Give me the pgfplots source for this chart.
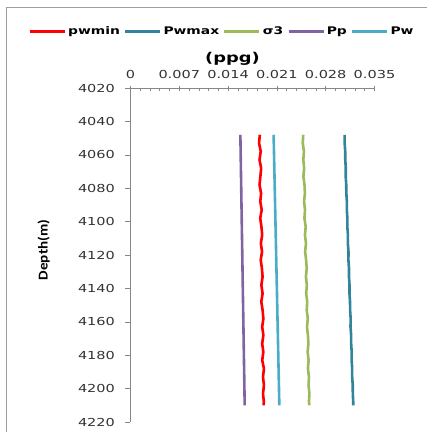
\documentclass[border=0pt]{standalone}
\usepackage{fontspec}
\usepackage{pgfplots}
\pgfplotsset{compat=1.18}
\newfontfamily\tickfont{DejaVu Sans}[FakeStretch=1.32]
\newfontfamily\labfont{Carlito}[FakeStretch=1.12]
\definecolor{cPwmin}{HTML}{FF0000}
\definecolor{cPwmax}{HTML}{31849B}
\definecolor{cSig}{HTML}{9BBB59}
\definecolor{cPp}{HTML}{8064A2}
\definecolor{cPw}{HTML}{4BACC6}
\definecolor{axgray}{HTML}{868686}
\begin{document}
\begin{tikzpicture}
\useasboundingbox (0,0) rectangle (427pt,-432pt);
\draw[axgray!80, line width=0.9pt] (6pt,-432pt) -- (6pt,-7pt) -- (427pt,-7pt);
\begin{axis}[
  at={(130.5pt,-88pt)}, anchor=north west,
  scale only axis, width=244pt, height=334pt,
  xmin=0, xmax=0.035, ymin=4020, ymax=4220,
  y dir=reverse,
  axis x line=top, axis y line=left,
  axis line style={-, axgray, line width=0.8pt},
  scaled x ticks=false, scaled y ticks=false,
  xtick={0,0.007,0.014,0.021,0.028,0.035},
  xticklabels={0,0.007,0.014,0.021,0.028,0.035},
  minor x tick num=4,
  ytick={4020,4040,4060,4080,4100,4120,4140,4160,4180,4200,4220},
  yticklabels={4020,4040,4060,4080,4100,4120,4140,4160,4180,4200,4220},
  tick align=outside,
  major tick length=5pt, minor tick length=3pt,
  tick style={axgray, line width=0.6pt},
  major x tick style={yshift=-2.5pt},
  minor x tick style={yshift=-3pt},
  xticklabel pos=right,
  ticklabel style={font=\tickfont\fontsize{11}{12}\selectfont, text=black!80},
  y tick label style={xshift=-7pt},
  x tick label style={yshift=1pt},
  title={(ppg)},
  title style={font=\tickfont\bfseries\fontsize{13.5}{15}\selectfont, at={(axis description cs:0.418,1.069)}, anchor=center},
  ylabel={Depth(m)},
  ylabel style={font=\labfont\bfseries\fontsize{13.5}{15}\selectfont, at={(axis description cs:-0.356,0.515)}, anchor=center},
  legend columns=5,
  legend style={draw=none, fill=none, at={(axis description cs:0.375,1.17)}, anchor=center,
    font=\tickfont\bfseries\fontsize{10.5}{12}\selectfont, inner sep=0pt,
    /tikz/every even column/.append style={column sep=2pt}},
  legend image code/.code={\draw[#1, line width=2.6pt] (0pt,0pt) -- (35pt,0pt);},
  every axis plot/.append style={line width=2.6pt},
]
\addplot[cPwmin] coordinates {
(0.01855,4048) (0.01844,4053) (0.01868,4058) (0.01851,4063) (0.01874,4068)
(0.01863,4073) (0.01851,4078) (0.01873,4083) (0.01862,4088) (0.01882,4093)
(0.01861,4098) (0.01878,4103) (0.01889,4108) (0.01870,4113) (0.01887,4118)
(0.01868,4123) (0.01885,4128) (0.01895,4133) (0.01877,4138) (0.01895,4143)
(0.01876,4148) (0.01895,4153) (0.01906,4158) (0.01889,4163) (0.01906,4168)
(0.01889,4173) (0.01905,4178) (0.01890,4183) (0.01914,4188) (0.01901,4193)
(0.01914,4198) (0.01901,4203) (0.01913,4208) (0.01908,4210)};
\addlegendentry{pwmin}
\addplot[cPwmax] coordinates {
(0.03071,4048) (0.03072,4053) (0.03080,4058) (0.03081,4063) (0.03088,4068)
(0.03087,4073) (0.03095,4078) (0.03096,4083) (0.03104,4088) (0.03103,4093)
(0.03111,4098) (0.03110,4103) (0.03119,4108) (0.03118,4113) (0.03127,4118)
(0.03126,4123) (0.03134,4128) (0.03134,4133) (0.03142,4138) (0.03141,4143)
(0.03149,4148) (0.03150,4153) (0.03158,4158) (0.03156,4163) (0.03165,4168)
(0.03165,4173) (0.03173,4178) (0.03172,4183) (0.03180,4188) (0.03180,4193)
(0.03188,4198) (0.03189,4203) (0.03195,4208) (0.03195,4210)};
\addlegendentry{Pwmax}
\addplot[cSig] coordinates {
(0.02478,4048) (0.02471,4053) (0.02488,4058) (0.02479,4063) (0.02491,4068)
(0.02480,4073) (0.02496,4078) (0.02502,4083) (0.02490,4088) (0.02503,4093)
(0.02495,4098) (0.02513,4103) (0.02503,4108) (0.02517,4113) (0.02505,4118)
(0.02519,4123) (0.02528,4128) (0.02516,4133) (0.02530,4138) (0.02520,4143)
(0.02535,4148) (0.02528,4153) (0.02543,4158) (0.02532,4163) (0.02545,4168)
(0.02552,4173) (0.02541,4178) (0.02555,4183) (0.02545,4188) (0.02560,4193)
(0.02554,4198) (0.02566,4203) (0.02560,4208) (0.02566,4210)};
\addlegendentry{σ3}
\addplot[cPp] coordinates {(0.01576,4048) (0.01607,4129) (0.01638,4210)};
\addlegendentry{Pp}
\addplot[cPw] coordinates {(0.02053,4048) (0.02094,4129) (0.02135,4210)};
\addlegendentry{Pw}
\end{axis}
\end{tikzpicture}
\end{document}
